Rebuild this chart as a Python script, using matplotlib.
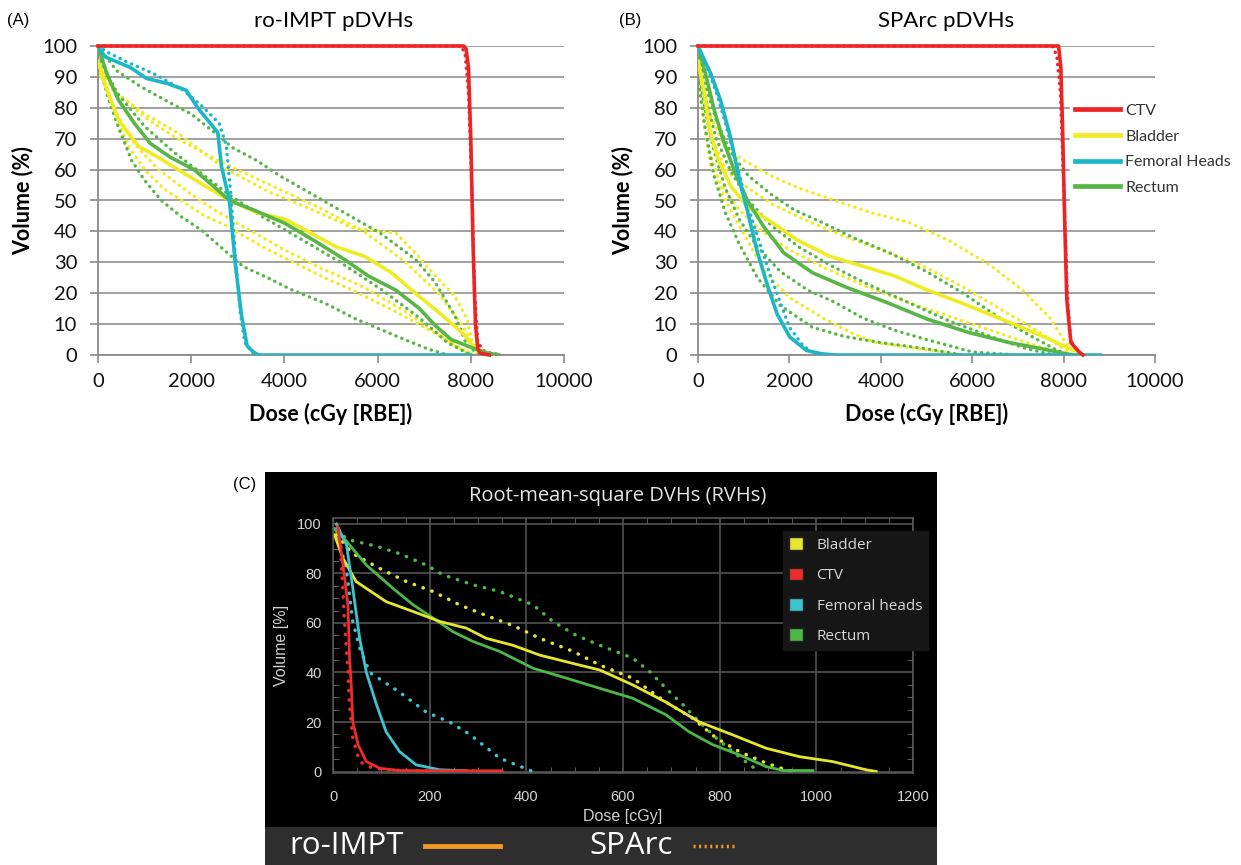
import matplotlib
matplotlib.use("Agg")
import matplotlib.pyplot as plt
from matplotlib.lines import Line2D
from matplotlib.patches import Patch

# ---------------- Panel A (ro-IMPT pDVHs) ----------------
A_ctv_d = [0, 7850, 7900, 7950, 8000, 8050, 8100, 8150, 8200, 8400]
A_ctv_v = [100, 100, 99, 93, 70, 35, 10, 2, 0.6, 0]
A_bla_d = [0, 190, 440, 870, 1290, 1720, 2310, 2820, 3420, 4000, 4430, 5110, 5710, 6300, 6810, 7320, 7830, 8050, 8170, 8300]
A_bla_v = [95, 86, 76, 67.5, 64, 60, 54.6, 50, 46, 44, 40.6, 35, 32, 26.6, 20, 13.7, 7, 3, 1, 0]
A_fem_d = [0, 150, 700, 1040, 1460, 1890, 2140, 2570, 2650, 2820, 2950, 3080, 3200, 3330, 3450, 8000]
A_fem_v = [100, 96.5, 93, 89.5, 88, 85.7, 80, 72, 61, 50, 29, 12.7, 3, 1, 0, 0]
A_rec_d = [0, 190, 440, 780, 1120, 1550, 2060, 2480, 2820, 3330, 4000, 4600, 5280, 5800, 6390, 6900, 7240, 7580, 8090, 8340, 8600]
A_rec_v = [100, 91, 82.5, 75, 68.5, 64, 60, 54.6, 50, 47, 42.7, 37.4, 31, 25.6, 21, 15, 9.5, 5, 2, 0.7, 0]

A_bla_dot_d = [
    [0, 300, 1000, 1700, 2650, 3640, 4600, 5490, 6390, 6810, 7240, 7660, 7920, 8050, 8200],
    [0, 400, 1000, 1700, 2700, 3700, 4700, 5700, 6600, 7300, 7800, 8200],
    [0, 400, 800, 1300, 2000, 2600, 3300, 4000, 4800, 5700, 6600, 7300, 7800, 8100],
    [0, 200, 430, 650, 1000, 1430, 1860, 2290, 2780, 3130, 3640, 4210, 4930, 5420, 6390, 7240, 7660, 8000],
]
A_bla_dot_v = [
    [95, 86, 78, 72, 61, 53, 47, 41, 39.5, 33, 25.6, 19, 11.6, 3, 0],
    [95, 85, 77, 70, 62, 55, 48, 40, 30, 20, 10, 0],
    [93, 78, 68, 60, 52, 46, 40, 34, 28, 22, 14, 7, 2, 0],
    [92, 86, 76, 67.6, 60, 53.6, 49.3, 45, 41.7, 38.5, 34.2, 29.9, 24.5, 21.3, 14, 7, 3, 0],
]
A_rec_dot_d = [
    [0, 400, 900, 1500, 2000, 2500, 2900, 3400, 3900, 4600, 5060, 6050, 6810, 7240, 7660, 7920, 8200],
    [0, 400, 1000, 1600, 2200, 2800, 3500, 4300, 5200, 6100, 6900, 7500, 8000],
    [0, 200, 430, 720, 1000, 1360, 1790, 2220, 2780, 3120, 3600, 4170, 4880, 5540, 6390, 7070, 7500],
]
A_rec_dot_v = [
    [100, 92, 87, 82, 78, 72, 67, 63, 58, 52, 48, 39.5, 31, 23.4, 12.7, 3, 0],
    [97, 85, 74, 66, 59, 52, 45, 38, 30, 21, 12, 4, 0],
    [96, 84, 74, 63, 56.5, 50, 44.7, 40.4, 33, 28.6, 25.3, 21, 16.7, 11.6, 6.2, 2, 0],
]
A_fem_dot_d = [0, 200, 600, 1200, 1800, 2200, 2600, 2750, 2850, 2950, 3050, 3150, 3350]
A_fem_dot_v = [100, 98, 95, 91, 86, 81, 75, 68, 52, 32, 14, 4, 0]
A_ctv_dot_d = [0, 7800, 7880, 7950, 8020, 8080, 8150, 8300, 8650]
A_ctv_dot_v = [100, 100, 97, 85, 55, 20, 4, 1, 0]

# ---------------- Panel B (SPArc pDVHs) ----------------
B_ctv_d = [0, 7890, 7940, 7980, 8030, 8070, 8160, 8340, 8420]
B_ctv_v = [100, 100, 93, 72, 40, 18, 4, 1, 0]
B_bla_d = [0, 135, 270, 450, 720, 1080, 1610, 2150, 2870, 3590, 4300, 5020, 5740, 6460, 7170, 7710, 8070, 8340, 8450]
B_bla_v = [95, 85, 72, 63, 54.6, 48, 43, 37.4, 32, 28.8, 25.6, 21, 17, 12.7, 8.4, 5, 2.5, 0.8, 0]
B_fem_d = [0, 281, 497, 713, 929, 1080, 1290, 1510, 1730, 2010, 2370, 2700, 3000, 8800]
B_fem_v = [100, 91, 82.3, 70.4, 55.3, 46.7, 33.8, 23, 13.3, 5.8, 1.5, 0.4, 0, 0]
B_rec_d = [0, 180, 360, 540, 810, 1080, 1430, 1880, 2510, 3230, 4130, 5020, 5920, 6820, 7530, 7980, 8200]
B_rec_v = [100, 90, 79, 70, 59, 50, 41.7, 33, 26.6, 22, 17, 11.6, 7.3, 4, 2, 0.6, 0]

B_bla_dot_d = [
    [0, 250, 600, 1000, 1600, 2200, 3000, 3800, 4600, 5500, 6400, 7100, 7700, 8000, 8250],
    [0, 250, 600, 1000, 1600, 2300, 3100, 4000, 4900, 5800, 6600, 7300, 7800, 8200],
    [0, 200, 500, 900, 1400, 2000, 2800, 3700, 4600, 5600, 6600, 7400, 8100],
    [0, 280, 570, 1080, 1510, 2010, 2730, 3450, 3900, 4800, 5800],
]
B_bla_dot_v = [
    [95, 78, 67, 63, 58, 54, 50, 46, 43, 37, 29, 21, 12, 5, 0],
    [93, 72, 60, 55, 49, 44, 39, 34, 29, 22, 15, 9, 4, 0],
    [90, 68, 55, 47, 40, 34, 28, 22, 17, 12, 7, 3, 0],
    [88, 61, 51, 37, 26, 18.5, 12, 6.5, 4, 2, 0],
]
B_rec_dot_d = [
    [0, 150, 400, 700, 1100, 1600, 2100, 2700, 3400, 4200, 5000, 5800, 6600, 7300, 7800, 8100],
    [0, 150, 400, 700, 1100, 1600, 2200, 2900, 3700, 4600, 5500, 6400, 7200, 7800],
    [0, 150, 350, 600, 900, 1300, 1800, 2400, 3000, 3600, 4300, 5000, 6000, 7000],
    [0, 150, 350, 600, 900, 1300, 1800, 2500, 3200, 4000, 5000, 5800],
]
B_rec_dot_v = [
    [98, 88, 76, 66, 58, 52, 47, 43, 38, 33, 27, 20, 12, 6, 2, 0],
    [96, 84, 70, 60, 50, 42, 35, 29, 23, 17, 11, 6, 2, 0],
    [93, 80, 66, 54, 44, 35, 27, 21, 17, 12, 8, 5, 1, 0],
    [90, 74, 58, 46, 36, 25, 16, 9, 6, 4, 2, 0],
]
B_fem_dot_d = [0, 200, 400, 600, 800, 1000, 1200, 1400, 1600, 1800, 2000, 2300, 2600]
B_fem_dot_v = [100, 93, 85, 75, 64, 53, 43, 34, 25, 17, 9, 3, 0]
B_ctv_dot_d = [0, 7750, 7850, 7930, 8000, 8080, 8150, 8300, 8400]
B_ctv_dot_v = [100, 100, 97, 85, 55, 20, 5, 1, 0]

legend_B = ["CTV", "Bladder", "Femoral Heads", "Rectum"]

# ---------------- Panel C (RVHs) ----------------
C_ctv_d = [10, 21, 31, 34, 38, 41, 52, 69, 97, 138, 200, 350]
C_ctv_v = [99, 83, 67, 47, 34, 20, 10.8, 4, 1.3, 0.4, 0.3, 0.3]
C_ctv_dot_d = [12, 17, 24, 31, 34, 41, 55, 83, 130, 200, 300]
C_ctv_dot_v = [97, 85, 60, 40, 27, 13.5, 4, 1.3, 0.5, 0.3, 0.3]
C_fem_d = [7, 28, 41, 55, 69, 90, 110, 138, 172, 221, 276]
C_fem_v = [100, 91.5, 74, 54, 40, 27, 16, 8, 2.7, 0.7, 0.3]
C_fem_dot_d = [7, 28, 41, 55, 76, 138, 193, 241, 283, 310, 345, 379, 414]
C_fem_dot_v = [98, 81, 60.6, 50, 40, 32, 24, 20, 15, 10.8, 5.4, 2.7, 0]
C_bla_d = [3, 21, 48, 110, 166, 221, 276, 317, 372, 428, 510, 552, 620, 689, 758, 827, 896, 965, 1034, 1103, 1124]
C_bla_v = [95.6, 86, 76.7, 68.6, 64.6, 60.6, 57.9, 53.8, 51, 47, 43, 41, 35, 28, 20, 14.8, 9.4, 6, 4, 0.7, 0]
C_bla_dot_d = [7, 41, 97, 152, 207, 262, 317, 372, 428, 497, 552, 620, 689, 744, 793, 841, 896, 937, 951]
C_bla_dot_v = [95.6, 88, 82, 76.7, 72.7, 67.3, 63, 59, 53.8, 48.5, 43, 37.7, 28, 21.5, 13.5, 8, 3.4, 0.7, 0]
C_rec_d = [3, 28, 69, 124, 166, 207, 248, 290, 345, 414, 483, 552, 620, 689, 737, 786, 841, 896, 931, 993]
C_rec_v = [98, 93, 83.4, 74, 67.3, 62, 56.5, 52.5, 48.5, 41.7, 37.7, 33.6, 29.6, 22.9, 16, 10.8, 6.7, 2, 0.4, 0.4]
C_rec_dot_d = [7, 34, 90, 138, 193, 228, 290, 345, 414, 455, 503, 552, 620, 655, 689, 724, 758, 793, 827, 862, 883]
C_rec_dot_v = [97, 93.5, 91, 88, 83.4, 79.4, 75.4, 72.7, 67.3, 60.6, 55, 51, 45.8, 40.4, 33.6, 27, 20, 13.5, 8, 2.7, 0]
legend_C = ["Bladder", "CTV", "Femoral heads", "Rectum"]

# ---------------- styling ----------------
RED, YEL, CYA, GRN = "#ee2424", "#f0ec24", "#1cb6c8", "#58b646"
CRED, CYEL, CCYA, CGRN = "#ee2c2c", "#e6e62c", "#3ec4d0", "#4cb848"
W, H = 1241, 865

fig = plt.figure(figsize=(W / 100, H / 100), dpi=100)
fig.patch.set_facecolor("white")

FONT = ["Lato", "DejaVu Sans"]
DOT = (0, (0.1, 1.8))


def style_excel(ax):
    ax.set_xlim(0, 10000)
    ax.set_ylim(0, 100)
    ax.set_xticks(range(0, 10001, 2000))
    ax.set_yticks(range(0, 101, 10))
    ax.grid(axis="y", color="#9a9a9a", lw=1.3, zorder=0)
    ax.set_axisbelow(True)
    for s in ["top", "right"]:
        ax.spines[s].set_visible(False)
    for s in ["left", "bottom"]:
        ax.spines[s].set_color("#8a8a8a")
        ax.spines[s].set_linewidth(1.3)
    ax.tick_params(axis="both", direction="out", length=6, width=1.2, color="#8a8a8a",
                   labelsize=14.5, labelcolor="#111111")
    ax.tick_params(axis="x", pad=7)
    ax.tick_params(axis="y", pad=9)
    for lab in ax.get_xticklabels() + ax.get_yticklabels():
        lab.set_family(FONT)
    ax.set_xlabel("Dose (cGy [RBE])", fontsize=15.5, fontweight="bold", family=FONT, labelpad=9)
    ax.set_ylabel("Volume (%)", fontsize=15.5, fontweight="bold", family=FONT, labelpad=6)


def draw_panel(ax, ctv, bla, fem, rec, bla_dots, rec_dots, fem_dot, ctv_dot):
    for d, v in zip(*bla_dots):
        ax.plot(d, v, color=YEL, lw=2.4, ls=DOT, dash_capstyle="round", zorder=2)
    for d, v in zip(*rec_dots):
        ax.plot(d, v, color=GRN, lw=2.4, ls=DOT, dash_capstyle="round", zorder=2)
    ax.plot(*fem_dot, color=CYA, lw=2.4, ls=DOT, dash_capstyle="round", zorder=2)
    ax.plot(*ctv_dot, color=RED, lw=2.4, ls=DOT, dash_capstyle="round", zorder=2, clip_on=False)
    ax.plot(*bla, color=YEL, lw=2.6, zorder=3)
    ax.plot(*rec, color=GRN, lw=2.6, zorder=3)
    ax.plot(*fem, color=CYA, lw=2.6, zorder=4)
    ax.plot(*ctv, color=RED, lw=2.6, zorder=5, clip_on=False)


axA = fig.add_axes([98 / W, 1 - 355 / H, (564 - 98) / W, 309 / H])
draw_panel(axA, (A_ctv_d, A_ctv_v), (A_bla_d, A_bla_v), (A_fem_d, A_fem_v), (A_rec_d, A_rec_v),
           (A_bla_dot_d, A_bla_dot_v), (A_rec_dot_d, A_rec_dot_v),
           (A_fem_dot_d, A_fem_dot_v), (A_ctv_dot_d, A_ctv_dot_v))
style_excel(axA)

axB = fig.add_axes([698 / W, 1 - 355 / H, (1155 - 698) / W, 309 / H])
draw_panel(axB, (B_ctv_d, B_ctv_v), (B_bla_d, B_bla_v), (B_fem_d, B_fem_v), (B_rec_d, B_rec_v),
           (B_bla_dot_d, B_bla_dot_v), (B_rec_dot_d, B_rec_dot_v),
           (B_fem_dot_d, B_fem_dot_v), (B_ctv_dot_d, B_ctv_dot_v))
style_excel(axB)

handles_B = [Line2D([], [], color=c, lw=3.4) for c in (RED, YEL, CYA, GRN)]
legB = axB.legend(handles_B, legend_B, loc="upper left",
                  bbox_to_anchor=(1070 / W, 1 - 99 / H), bbox_transform=fig.transFigure,
                  frameon=True, facecolor="white", edgecolor="white", framealpha=1,
                  fancybox=False, prop={"family": FONT, "size": 11.5},
                  handlelength=2.8, handletextpad=0.35, labelspacing=0.72, borderpad=0.3,
                  borderaxespad=0)
for t in legB.get_texts():
    t.set_color("#333333")

fig.text(18 / W, 1 - 20 / H, "(A)", fontsize=12, ha="center", va="center", family=["Liberation Sans"])
fig.text(630 / W, 1 - 20 / H, "(B)", fontsize=12, ha="center", va="center", family=["Liberation Sans"])
fig.text(334 / W, 1 - 21 / H, "ro-IMPT pDVHs", fontsize=16, ha="center", va="center", family=FONT)
fig.text(946 / W, 1 - 21 / H, "SPArc pDVHs", fontsize=16, ha="center", va="center", family=FONT)

# ---------------- Panel C ----------------
bg = fig.add_axes([265 / W, 1 - 827 / H, (937 - 265) / W, (827 - 472) / H])
bg.set_facecolor("black")
bg.set_xticks([])
bg.set_yticks([])
for s in bg.spines.values():
    s.set_visible(False)

strip = fig.add_axes([265 / W, 0, (937 - 265) / W, (865 - 827) / H])
strip.set_facecolor("#2e2e2e")
strip.set_xlim(0, 1)
strip.set_ylim(0, 1)
strip.set_xticks([])
strip.set_yticks([])
for s in strip.spines.values():
    s.set_visible(False)
CFONT = ["Open Sans", "DejaVu Sans"]
strip.text((289 - 265) / 672, 0.5, "ro-IMPT", color="white", fontsize=22.5, va="center", ha="left", family=CFONT)
strip.plot([(425 - 265) / 672, (500 - 265) / 672], [0.5, 0.5], color="#f29a22", lw=3.5)
strip.text((589 - 265) / 672, 0.5, "SPArc", color="white", fontsize=22.5, va="center", ha="left", family=CFONT)
strip.plot([(693 - 265) / 672, (735 - 265) / 672], [0.5, 0.5], color="#f29a22", lw=2.5, ls=(0, (0.6, 1.0)))

fig.text(245 / W, 1 - 485 / H, "(C)", fontsize=12, ha="center", va="center", family=["Liberation Sans"])
fig.text(618 / W, 1 - 496 / H, "Root-mean-square DVHs (RVHs)", fontsize=14.5, ha="center", va="center",
         color="#e6e6e6", family=CFONT)

axC = fig.add_axes([333 / W, 1 - 773 / H, (913 - 333) / W, (773 - 518) / H])
axC.set_facecolor("black")
axC.set_xlim(0, 1200)
axC.set_ylim(-0.6, 102.4)
axC.set_xticks(range(0, 1201, 200))
axC.set_yticks(range(0, 101, 20))
axC.set_xticks(range(0, 1201, 50), minor=True)
axC.set_yticks(range(0, 101, 5), minor=True)
axC.grid(which="major", color="#5a5a5a", lw=1.1)
for s in axC.spines.values():
    s.set_color("#5a5a5a")
    s.set_linewidth(1.1)
axC.tick_params(which="both", direction="in", color="#6a6a6a", top=True, right=True)
axC.tick_params(which="major", length=0, labelsize=10.5, labelcolor="#d6d6d6")
axC.tick_params(which="minor", length=4)
axC.tick_params(axis="x", pad=12)
axC.tick_params(axis="y", pad=8)
for lab in axC.get_xticklabels() + axC.get_yticklabels():
    lab.set_family(["Liberation Sans Narrow", "Liberation Sans"])
axC.set_xlabel("Dose [cGy]", color="#d0d0d0", fontsize=11.5, labelpad=4,
               family=["Liberation Sans Narrow", "Liberation Sans"])
axC.set_ylabel("Volume [%]", color="#d0d0d0", fontsize=11.5, labelpad=6,
               family=["Liberation Sans Narrow", "Liberation Sans"])

CDOT = (0, (0.1, 2.6))
axC.plot(C_ctv_dot_d, C_ctv_dot_v, color=CRED, lw=2.5, ls=CDOT, dash_capstyle="round")
axC.plot(C_fem_dot_d, C_fem_dot_v, color=CCYA, lw=2.5, ls=CDOT, dash_capstyle="round")
axC.plot(C_bla_dot_d, C_bla_dot_v, color=CYEL, lw=2.5, ls=CDOT, dash_capstyle="round")
axC.plot(C_rec_dot_d, C_rec_dot_v, color=CGRN, lw=2.5, ls=CDOT, dash_capstyle="round")
axC.plot(C_rec_d, C_rec_v, color=CGRN, lw=2.0)
axC.plot(C_bla_d, C_bla_v, color=CYEL, lw=2.0)
axC.plot(C_fem_d, C_fem_v, color=CCYA, lw=2.0)
axC.plot(C_ctv_d, C_ctv_v, color=CRED, lw=2.0)

handles_C = [Patch(facecolor=c, edgecolor="#222222") for c in (CYEL, CRED, CCYA, CGRN)]
legC = axC.legend(handles_C, legend_C, loc="upper left", bbox_to_anchor=(783 / W, 1 - 531 / H),
                  bbox_transform=fig.transFigure, frameon=True, facecolor="#161616",
                  edgecolor="#161616", framealpha=1, fancybox=False,
                  prop={"family": CFONT, "size": 11}, handlelength=0.9, handleheight=0.9,
                  handletextpad=0.9, labelspacing=0.97, borderpad=0.4, borderaxespad=0)
for t in legC.get_texts():
    t.set_color("#d8d8d8")

fig.savefig("out.png", dpi=100, facecolor="white")
